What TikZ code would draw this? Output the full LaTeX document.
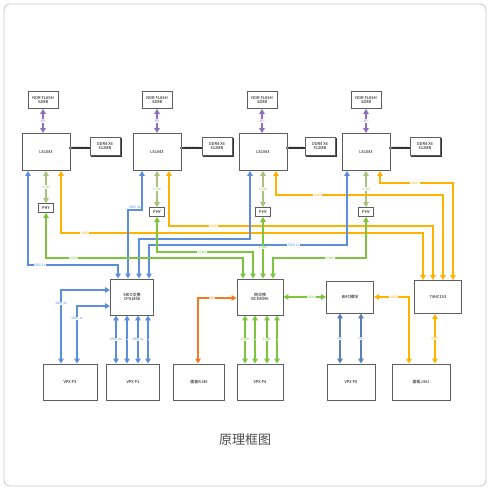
\documentclass[tikz,border=0pt]{standalone}
\usepackage{fontspec}
\setmainfont{Noto Sans CJK SC}
\usetikzlibrary{arrows.meta,positioning}
\definecolor{lnblue}{HTML}{5B8FDB}
\definecolor{lngreen}{HTML}{7DC43F}
\definecolor{lnlight}{HTML}{A8C37B}
\definecolor{lnorange}{HTML}{FFB300}
\definecolor{lnred}{HTML}{F47A20}
\definecolor{lnpurple}{HTML}{8E6FBF}
\definecolor{lnsteel}{HTML}{5A7FB8}
\definecolor{boxgray}{HTML}{5E5E5E}
\tikzset{
  blk/.style={draw=boxgray, line width=0.9pt, fill=white, inner sep=0pt,
    align=center, font=\fontsize{4}{4.6}\selectfont},
  tinybox/.style={blk, minimum width=30pt, minimum height=17pt},
  cpubox/.style={blk, minimum width=48pt, minimum height=37pt},
  phybox/.style={blk, minimum width=15pt, minimum height=9pt, line width=0.7pt},
  lowbox/.style={blk, minimum height=36pt},
  link/.style={line width=1.4pt, {Triangle[length=5pt,width=5.5pt]}-{Triangle[length=5pt,width=5.5pt]}},
  tag/.style={fill=white, inner sep=0.5pt, font=\fontsize{3.2}{3.4}\selectfont}
}
\begin{document}
\begin{tikzpicture}[x=1pt,y=-1pt]
  \useasboundingbox (0,0) rectangle (490,490);
  \draw[gray!45, line width=0.8pt, rounded corners=6pt] (4,4) rectangle (486,486);

  % processors, flash, ddr, phy
  \foreach \i/\x/\nx/\dx in {1/46/43/105, 2/157/157/217, 3/263/262/320, 4/366/366/425} {
    \node[cpubox] (cpu\i) at (\x,152) {LS1043};
    \node[tinybox] (nor\i) at (\nx,100) {NOR FLASH\\32MB};
    \fill[black!80] ({\dx-14},138) rectangle ({\dx+17},157);
    \node[tinybox, minimum height=18pt, line width=0.6pt] (ddr\i) at (\dx,146) {DDR4 X4\\512MB};
    \draw[black!80, line width=1.2pt] (cpu\i.east |- 0,148) -- (ddr\i.west |- 0,148)
      node[midway, tag, above=-2.5pt, fill=none] {DDR BUS};
    \draw[black!80, fill=white, line width=0.5pt] (cpu\i.east |- 0,148) circle (1.3pt);
    \draw[link, lnpurple] (nor\i) -- (nor\i |- cpu\i.north) node[midway, tag, text=lnpurple] {SPI};
  }
  \node[phybox] (phy1) at (46,208) {PHY};
  \node[phybox] (phy2) at (157,212) {PHY};
  \node[phybox] (phy3) at (263,212) {PHY};
  \node[phybox] (phy4) at (366,212) {PHY};
  \foreach \i in {1,...,4}
    \draw[link, lnlight] (cpu\i.south -| phy\i) -- (phy\i) node[midway, tag, text=lnlight] {SGMII};

  % switches and modules
  \node[blk, minimum width=43pt, minimum height=36pt] (srio) at (132,297) {SRIO交换\\CPS1848};
  \node[blk, minimum width=46pt, minimum height=36pt] (eth) at (260,297) {网交换\\BCM5396};
  \node[blk, minimum width=47pt, minimum height=32pt] (bmc) at (350,297) {BMC模块};
  \node[blk, minimum width=47pt, minimum height=33pt] (hc) at (438,297) {74HC153};

  \node[lowbox, minimum width=54pt] (p3) at (70,382) {VPX P3};
  \node[lowbox, minimum width=53pt] (p1) at (133,382) {VPX P1};
  \node[lowbox, minimum width=51pt] (rj) at (199,382) {面板RJ45};
  \node[lowbox, minimum width=46pt] (p4) at (260,382) {VPX P4};
  \node[lowbox, minimum width=48pt] (p0) at (351,382) {VPX P0};
  \node[lowbox, minimum width=58pt] (jt) at (421,382) {面板J30J};

  % uart to 74HC153
  \draw[link, lnorange] (cpu1.south -| 61,0) -- (61,233)
    -- node[pos=0.066, tag, text=lnorange] {UART} (423,233) -- (hc.north -| 423,0);
  \draw[link, lnorange] (cpu2.south -| 169,0) -- (169,226)
    -- node[pos=0.17, tag, text=lnorange] {UART} (433,226) -- (hc.north -| 433,0);
  \draw[link, lnorange] (cpu3.south -| 276,0) -- (276,195)
    -- node[pos=0.25, tag, text=lnorange] {UART} (443,195) -- (hc.north -| 443,0);
  \draw[link, lnorange] (cpu4.south -| 380,0) -- (380,183)
    -- node[pos=0.48, tag, text=lnorange] {UART} (453,183) -- (hc.north -| 453,0);

  % srio to switch
  \draw[link, lnblue] (cpu1.south -| 28,0) -- (28,265)
    -- node[pos=0.13, tag, text=lnblue] {SRIO 1x} (118,265) -- (srio.north -| 118,0);
  \draw[link, lnblue] (cpu2.south -| 142,0) -- (142,210) -- (128,210) -- (srio.north -| 128,0);
  \node[tag, text=lnblue] (srio2tag) at (135,207) {SRIO 4x};
  \draw[link, lnblue] (cpu3.south -| 250,0) -- (250,239) -- (139,239) -- (srio.north -| 139,0);
  \draw[link, lnblue] (cpu4.south -| 347,0) -- (347,245)
    -- node[pos=0.27, tag, text=lnblue] {SRIO 1x} (149,245) -- (srio.north -| 149,0);

  % sgmii to ethernet switch
  \draw[link, lngreen] (phy1) -- (46,258)
    -- node[pos=0.14, tag, text=lngreen] {SGMII} (243,258) -- (eth.north -| 243,0);
  \draw[link, lngreen] (phy2) -- (157,252)
    -- node[pos=0.47, tag, text=lngreen] {SGMII} (253,252) -- (eth.north -| 253,0);
  \draw[link, lngreen] (phy3) -- (eth.north -| phy3) node[pos=0.5, tag, text=lngreen] {SGMII};
  \draw[link, lngreen] (phy4) -- (366,258)
    -- node[pos=0.39, tag, text=lngreen] {SGMII} (273,258) -- (eth.north -| 273,0);

  % lower links
  \draw[link, lnblue] (srio.west |- 0,290) -- (61,290) -- (p3.north -| 61,0)
    node[pos=0.18, tag, text=lnblue] {SRIO 4x};
  \draw[link, lnblue] (srio.west |- 0,306) -- (77,306) -- (p3.north -| 77,0)
    node[pos=0.22, tag, text=lnblue] {SRIO 1x};
  \foreach \x/\t in {116/SRIO 4x, 127/, 138/SRIO 4x, 148/} {
    \draw[link, lnblue] (srio.south -| \x,0) -- (p1.north -| \x,0)
      node[midway, tag, text=lnblue] {\t};
  }
  \foreach \x/\t in {245/SGMII, 255/, 267/SGMII, 277/} {
    \draw[link, lngreen] (eth.south -| \x,0) -- (p4.north -| \x,0)
      node[midway, tag, text=lngreen] {\t};
  }
  \draw[link, lnred] (eth.west |- 0,298) -- node[pos=0.64, tag, text=lnred] {MDI} (198,298)
    -- (rj.north -| 198,0);
  \draw[link, lngreen] (eth) -- (bmc) node[pos=0.66, tag, text=lngreen] {SGMII};
  \foreach \x in {340,361}
    \draw[link, lnsteel] (bmc.south -| \x,0) -- (p0.north -| \x,0)
      node[midway, tag, text=lnsteel] {I2C};
  \draw[link, lnorange] (jt.north -| 409,0) -- (409,297) -- (bmc.east |- 0,297)
    node[pos=0.43, tag, text=lnorange] {UART};
  \draw[link, lnorange] (hc.south -| 435,0) -- (jt.north -| 435,0)
    node[midway, tag, text=lnorange] {UART};

  \node[text=black!70, font=\fontsize{13}{15}\selectfont] (title) at (245,440) {原理框图};
\end{tikzpicture}
\end{document}
